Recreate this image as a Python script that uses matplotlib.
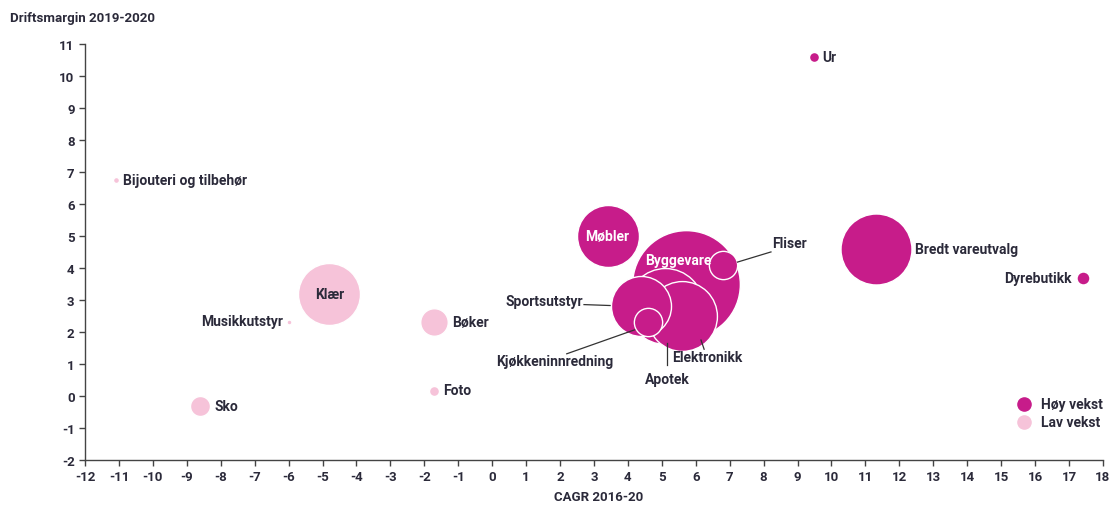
import matplotlib.pyplot as plt
import numpy as np

# Høy vekst
hoy_navn = ['Ur', 'Møbler', 'Byggevare', 'Fliser', 'Bredt vareutvalg', 'Dyrebutikk',
            'Sportsutstyr', 'Kjøkkeninnredning', 'Elektronikk', 'Apotek']
hoy_cagr = [9.5, 3.4, 5.7, 6.8, 11.3, 17.4, 4.4, 4.6, 5.6, 5.1]
hoy_margin = [10.6, 5.0, 3.5, 4.1, 4.6, 3.7, 2.8, 2.3, 2.5, 2.8]
hoy_oms = [0.25, 9.6, 29.0, 2.0, 12.6, 0.42, 9.0, 2.0, 12.2, 14.4]

# Lav vekst
lav_navn = ['Bijouteri og tilbehør', 'Klær', 'Musikkutstyr', 'Bøker', 'Foto', 'Sko']
lav_cagr = [-11.1, -4.8, -6.0, -1.7, -1.7, -8.6]
lav_margin = [6.75, 3.2, 2.3, 2.3, 0.15, -0.3]
lav_oms = [0.09, 9.6, 0.06, 1.9, 0.25, 1.0]

x_ticks = list(range(-12, 19))
y_ticks = list(range(-2, 12))

HOY = '#C71C8A'
LAV = '#F6C3D9'
TXT = '#2B2A3A'

plt.rcParams['font.family'] = ['Roboto', 'DejaVu Sans']
plt.rcParams['font.weight'] = 'bold'
plt.rcParams['axes.unicode_minus'] = False

fig = plt.figure(figsize=(11.10, 5.06), dpi=100)
ax = fig.add_axes([0.0766, 0.0889, 0.917, 0.822])

scale = 207.4
pts = []
for n, x, y, o in zip(hoy_navn, hoy_cagr, hoy_margin, hoy_oms):
    pts.append((n, x, y, o, HOY))
for n, x, y, o in zip(lav_navn, lav_cagr, lav_margin, lav_oms):
    pts.append((n, x, y, o, LAV))
pts.sort(key=lambda p: -p[3])
for i, (n, x, y, o, c) in enumerate(pts):
    ax.scatter(x, y, s=o * scale, color=c, edgecolor='white', linewidth=1.0,
               zorder=2 + i * 0.01)

pos = {n: (x, y) for n, x, y, o, c in pts}


def lab(name, dx, dy, ha='left', color=TXT, line=None):
    x, y = pos[name]
    ax.annotate(name, (x, y), xytext=(dx, dy), textcoords='offset pixels',
                ha=ha, va='center', fontsize=10, color=color, fontweight='bold',
                zorder=5)
    if line is not None:
        (x0, y0), (x1, y1) = line
        trans = ax.transData
        p = trans.transform((x, y))
        inv = trans.inverted()
        a = inv.transform((p[0] + x0, p[1] + y0))
        b = inv.transform((p[0] + x1, p[1] + y1))
        ax.plot([a[0], b[0]], [a[1], b[1]], color='#333333', lw=0.9, zorder=4)


lab('Ur', 8, 0)
lab('Bijouteri og tilbehør', 7, 0)
lab('Møbler', 0, 0, ha='center', color='white')
lab('Byggevare', -7, 24, ha='center', color='white')
lab('Fliser', 49, 22, line=((14, 3), (46, 14)))
lab('Bredt vareutvalg', 39, 0)
lab('Dyrebutikk', -11, 0, ha='right')
lab('Sportsutstyr', -58, 5, ha='right', line=((-30, 1), (-55, 2)))
lab('Kjøkkeninnredning', -93, -39, ha='center', line=((-13, -8), (-78, -34)))
lab('Elektronikk', -10, -41, ha='left', line=((18, -26), (21, -36)))
lab('Apotek', 2, -73, ha='center', line=((2, -40), (2, -64)))
lab('Klær', 0, 0, ha='center')
lab('Musikkutstyr', -6, 1, ha='right')
lab('Bøker', 18, 0)
lab('Foto', 9, 1)
lab('Sko', 14, 0)

ax.set_xlim(-12, 18)
ax.set_ylim(-2, 11)
ax.set_xticks(x_ticks)
ax.set_yticks(y_ticks)
for s in ['top', 'right']:
    ax.spines[s].set_visible(False)
for s in ['left', 'bottom']:
    ax.spines[s].set_color('#444444')
    ax.spines[s].set_linewidth(1.0)
ax.tick_params(axis='both', colors='#444444', labelcolor=TXT, labelsize=9.5,
               length=4, width=1.0, direction='out')
for t in ax.get_xticklabels() + ax.get_yticklabels():
    t.set_fontweight('bold')

fig.text(0.009, 0.964, 'Driftsmargin 2019-2020', fontsize=9.5, fontweight='bold',
         color=TXT, ha='left', va='center')
fig.text(0.539, 0.017, 'CAGR 2016-20', fontsize=9.5, fontweight='bold',
         color=TXT, ha='center', va='center')

h1 = ax.scatter([], [], s=90, color=HOY)
h2 = ax.scatter([], [], s=90, color=LAV)
ax.legend([h1, h2], ['Høy vekst', 'Lav vekst'], loc='lower right',
          bbox_to_anchor=(1.012, 0.045), frameon=False, prop={'size': 10, 'weight': 'bold'},
          handletextpad=0.2, labelspacing=0.3, labelcolor=TXT)

fig.savefig('out.png', dpi=100)
